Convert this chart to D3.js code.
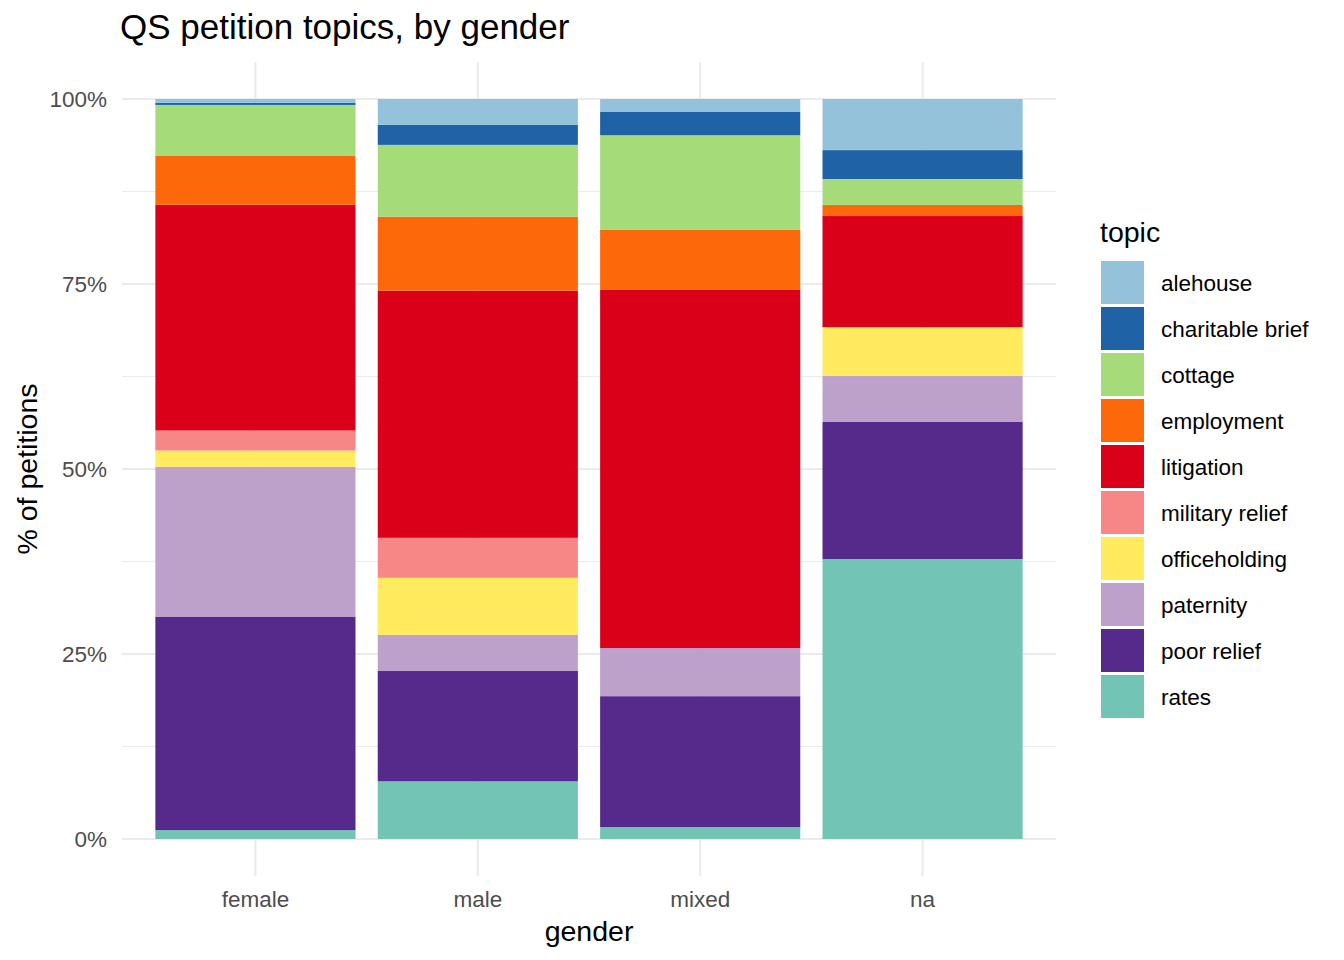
<!DOCTYPE html>
<html>
<head>
<meta charset="utf-8">
<script src="https://cdn.jsdelivr.net/npm/d3@7"></script>
<style>
  body { margin: 0; background: #fff; }
  text { font-family: "Liberation Sans", Arial, sans-serif; }
</style>
</head>
<body>
<div id="chart"></div>
<script>
// categories on the x axis
const genders = ["female", "male", "mixed", "na"];

// topics, top of the legend to bottom
const topics = ["alehouse", "charitable brief", "cottage", "employment", "litigation",
                "military relief", "officeholding", "paternity", "poor relief", "rates"];

const topicColors = ["#95C2DB", "#1F63A6", "#A6DB7A", "#FD690A", "#DA0019",
                     "#F78686", "#FFEB5D", "#BDA1CB", "#562A8A", "#72C4B5"];

// share of petitions (%) per topic, in gender order
const alehouse      = [0.5, 3.5, 1.7, 6.9];
const charitable    = [0.3, 2.7, 3.2, 3.9];
const cottage       = [6.9, 9.7, 12.8, 3.5];
const employment    = [6.6, 10.0, 8.1, 1.5];
const litigation    = [30.5, 33.4, 48.4, 15.0];
const military      = [2.7, 5.4, 0, 0];
const officeholding = [2.2, 7.7, 0, 6.6];
const paternity     = [20.3, 4.9, 6.5, 6.2];
const poorRelief    = [28.8, 14.9, 17.7, 18.5];
const rates         = [1.2, 7.8, 1.6, 37.8];

const yTicks = [0, 0.25, 0.5, 0.75, 1];

const series = [alehouse, charitable, cottage, employment, litigation,
                military, officeholding, paternity, poorRelief, rates];

const rows = genders.map((g, i) => {
    const row = { gender: g };
    topics.forEach((t, j) => { row[t] = series[j][i]; });
    return row;
});

const W = 1344, H = 960;
const panel = { left: 122, right: 1056, top: 62, bottom: 876 };

const svg = d3.select("#chart")
    .append("svg")
    .attr("width", W)
    .attr("height", H);

const x = d3.scaleBand()
    .domain(genders)
    .range([panel.left, panel.right])
    .paddingInner(0.1)
    .paddingOuter(0.15);

const y = d3.scaleLinear()
    .domain([0, 1])
    .range([839, 99]);

const color = d3.scaleOrdinal().domain(topics).range(topicColors);

// ggplot stacks the first level on top, so stack in reverse
const stack = d3.stack()
    .keys(topics.slice().reverse())
    .offset(d3.stackOffsetExpand);
const stacked = stack(rows);

// grid
const grid = svg.append("g");
const minor = [0.125, 0.375, 0.625, 0.875];
grid.selectAll(".minor")
    .data(minor)
    .enter()
    .append("line")
    .attr("x1", panel.left).attr("x2", panel.right)
    .attr("y1", d => y(d)).attr("y2", d => y(d))
    .style("stroke", "#EBEBEB")
    .style("stroke-width", 1.1);

grid.selectAll(".major")
    .data(yTicks)
    .enter()
    .append("line")
    .attr("x1", panel.left).attr("x2", panel.right)
    .attr("y1", d => y(d)).attr("y2", d => y(d))
    .style("stroke", "#EBEBEB")
    .style("stroke-width", 2.1);

grid.selectAll(".vmajor")
    .data(genders)
    .enter()
    .append("line")
    .attr("x1", d => x(d) + x.bandwidth() / 2)
    .attr("x2", d => x(d) + x.bandwidth() / 2)
    .attr("y1", panel.top).attr("y2", panel.bottom)
    .style("stroke", "#EBEBEB")
    .style("stroke-width", 2.1);

// bars
svg.append("g")
    .selectAll("g")
    .data(stacked)
    .enter()
    .append("g")
    .style("fill", d => color(d.key))
    .selectAll("rect")
    .data(d => d)
    .enter()
    .append("rect")
    .attr("x", d => x(d.data.gender))
    .attr("y", d => y(d[1]))
    .attr("width", x.bandwidth())
    .attr("height", d => y(d[0]) - y(d[1]));

// axes
const xAxis = svg.append("g")
    .attr("transform", `translate(0,${panel.bottom})`)
    .call(d3.axisBottom(x).tickSize(0).tickPadding(15));
xAxis.select(".domain").remove();
xAxis.selectAll("text")
    .style("font-size", "22.5px")
    .style("fill", "#4D4D4D")
    .attr("dy", "0.71em");

const yAxis = svg.append("g")
    .attr("transform", `translate(${panel.left},0)`)
    .call(d3.axisLeft(y).tickValues(yTicks).tickFormat(d3.format(".0%")).tickSize(0).tickPadding(15));
yAxis.select(".domain").remove();
yAxis.selectAll("text")
    .style("font-size", "22.5px")
    .style("fill", "#4D4D4D");

// titles
svg.append("text")
    .attr("x", 120)
    .attr("y", 39)
    .style("font-size", "35px")
    .style("fill", "#000")
    .text("QS petition topics, by gender");

svg.append("text")
    .attr("x", (panel.left + panel.right) / 2)
    .attr("y", 941)
    .attr("text-anchor", "middle")
    .style("font-size", "28.5px")
    .style("fill", "#000")
    .text("gender");

svg.append("text")
    .attr("transform", `translate(37,${(panel.top + panel.bottom) / 2}) rotate(-90)`)
    .attr("text-anchor", "middle")
    .style("font-size", "28.5px")
    .style("fill", "#000")
    .text("% of petitions");

// legend
const legend = svg.append("g").attr("transform", "translate(1101,261)");
legend.append("text")
    .attr("x", -1)
    .attr("y", -19)
    .style("font-size", "28.5px")
    .style("fill", "#000")
    .text("topic");

const item = legend.selectAll(".item")
    .data(topics)
    .enter()
    .append("g")
    .attr("transform", (d, i) => `translate(0,${i * 46})`);

item.append("rect")
    .attr("width", 43)
    .attr("height", 43)
    .style("fill", d => color(d));

item.append("text")
    .attr("x", 60)
    .attr("y", 22)
    .attr("dy", "0.35em")
    .style("font-size", "22.5px")
    .style("fill", "#000")
    .text(d => d);
</script>
</body>
</html>
